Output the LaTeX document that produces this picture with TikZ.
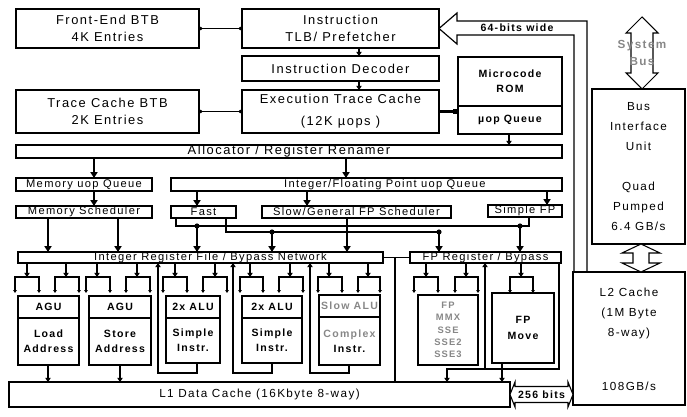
\documentclass[tikz,border=0pt]{standalone}
\usepackage{fontspec}
\setmainfont{Liberation Sans}[LetterSpace=12]
\usetikzlibrary{arrows.meta, positioning, calc}
\definecolor{cGray}{RGB}{135,135,135}
\tikzset{
	blk/.style ={rectangle, draw=black, line width=0.9pt, inner sep=0pt, outer sep=0pt, align=center, anchor=north west, font=\fontsize{11}{15}\selectfont},
	bar/.style ={blk, font=\fontsize{9.5}{10}\selectfont},
	unit/.style={blk, font=\fontsize{9}{13}\selectfont\bfseries},
	hvy/.style ={line width=2pt},
	sz/.style 2 args={minimum width=#1*0.3mm, minimum height=#2*0.3mm},
	wire/.style={line width=1pt},
	sig/.style ={-{Triangle[length=5pt,width=6pt]}, line width=1.8pt},
	tap/.style ={-{Triangle[length=3.5pt,width=4.5pt]}, line width=0.9pt},
	loopb/.style={-{Triangle[length=3.5pt,width=4.5pt]}, line width=1.6pt},
	port/.style={{Triangle[length=2.5pt,width=3pt]}-{Triangle[length=2.5pt,width=3pt]}, line width=0.9pt},
	dotc/.style={{Circle[length=3pt]}-{Circle[length=3pt]}, line width=0.9pt},
	hollow/.style={line width=0.9pt, fill=white, line join=miter},
}
\begin{document}
\begin{tikzpicture}[x=0.3mm, y=-0.3mm]
\useasboundingbox (0,0) rectangle (687,417);

% front end
\node[blk, sz={183}{39}] (febtb) at (16,9) {Front-End BTB\\4K Entries};
\node[blk, sz={197}{39}] (itlb) at (242,9) {Instruction\\TLB/ Prefetcher};
\node[blk, sz={197}{25}] (idec) at (242,56) {Instruction Decoder};
\node[blk, sz={197}{43}] (etc) at (242,90) {Execution Trace Cache\\[4pt](12K µops )};
\node[blk, sz={183}{43}] (tcbtb) at (16,90) {Trace Cache BTB\\2K Entries};
\node[unit, sz={104}{49}] (urom) at (458,57) {Microcode\\ROM};
\node[unit, sz={104}{28}] (uopq) at (458,106) {µop Queue};

% allocation and scheduling
\node[bar, sz={546}{13}, font=\fontsize{11}{11}\selectfont] (alloc) at (16,145) {Allocator / Register Renamer};
\node[bar, sz={136}{13}] (memq) at (16,178) {Memory uop Queue};
\node[bar, sz={391}{13}] (intq) at (171,178) {\hspace*{11mm}Integer/Floating Point uop Queue};
\node[bar, sz={136}{12}] (memsch) at (16,206) {Memory Scheduler};
\node[bar, sz={65}{12}] (fast) at (171,206) {Fast};
\node[bar, sz={189}{12}] (slowsch) at (262,206) {Slow/General FP Scheduler};
\node[bar, sz={74}{12}] (simfp) at (488,205) {Simple FP};
\node[bar, sz={365}{11}] (intrf) at (18,252) {\hspace*{6mm}Integer Register File / Bypass Network};
\node[bar, sz={151}{11}] (fprf) at (410,252) {FP Register / Bypass};

% execution units
\node[unit, sz={61}{22}] (agu1) at (18,296) {AGU};
\node[unit, sz={61}{47}] (ld) at (18,318) {Load\\Address};
\node[unit, sz={62}{22}] (agu2) at (89,296) {AGU};
\node[unit, sz={62}{47}] (st) at (89,318) {Store\\Address};
\node[unit, hvy, sz={54}{22}] (alu1) at (166,296) {2x ALU};
\node[unit, hvy, sz={54}{45}] (sim1) at (166,318) {Simple\\Instr.};
\node[unit, hvy, sz={60}{22}] (alu2) at (242,296) {2x ALU};
\node[unit, hvy, sz={60}{45}] (sim2) at (242,318) {Simple\\Instr.};
\node[unit, sz={61}{22}, text=cGray] (salu) at (319,295) {Slow ALU};
\node[unit, sz={61}{48}] (cpx) at (319,317) {\textcolor{cGray}{Complex}\\Instr.};
\node[unit, sz={60}{70}, text=cGray, font=\fontsize{8}{10.5}\selectfont\bfseries] (fpu) at (418,295) {FP\\MMX\\SSE\\SSE2\\SSE3};
\node[unit, sz={62}{70}] (fpmv) at (492,293) {FP\\Move};

% caches and bus unit
\node[blk, sz={501}{25}, font=\fontsize{10}{11}\selectfont] (l1) at (9,382) {L1 Data Cache (16Kbyte 8-way)};
\node[blk, hvy, sz={112}{133}] (l2) at (573,272) {};
\node[anchor=north, align=center, font=\fontsize{10}{17}\selectfont] (l2txt) at ($(l2.north)+(0,12)$) {L2 Cache\\(1M Byte\\8-way)};
\node[font=\fontsize{10}{12}\selectfont] (l2bw) at ($(l2.south)+(0,-19)$) {108GB/s};
\node[blk, hvy, sz={93}{155}, font=\fontsize{10}{17}\selectfont] (biu) at (592,89) {Bus\\Interface\\Unit\\[17pt]Quad\\Pumped\\6.4 GB/s};

% system bus
\coordinate (sbt) at (642,17);
\draw[hollow] (sbt) -- ++(16,16) -- ++(-5,0) -- ++(0,40) -- ++(5,0) -- (biu.north -| sbt) -- ++(-16,-16) -- ++(5,0) -- ++(0,-40) -- ++(-5,0) -- cycle;
\node[align=center, text=cGray, font=\fontsize{10}{15}\selectfont\bfseries] (systxt) at (642,53) {System\\Bus};
% bus unit to L2
\draw[hollow] (biu.south -| 641,0) -- ++(19,9) -- ++(-11,0) -- ++(0,10) -- ++(11,0) -- (l2.north -| 641,0) -- ++(-19,-9) -- ++(11,0) -- ++(0,-10) -- ++(-11,0) -- cycle;
% L1 to L2
\draw[hollow] (l1.east) -- ++(5,-12.5) -- ++(0,4.5) -- ++(53,0) -- ++(0,-4.5) -- (l1.east -| l2.west) -- ++(-5,12.5) -- ++(0,-4.5) -- ++(-53,0) -- ++(0,4.5) -- cycle;
\node[font=\fontsize{9}{10}\selectfont\bfseries, inner sep=0pt] (w256) at (541.5,394.5) {256 bits};

% 64-bit bus from L2 to prefetcher
\draw[wire] (l2.north -| 587,0) -- (587,21) -- (457,21) -- (457,13) -- (itlb.east) -- (457,44) -- (457,35) -- (574,35) -- (l2.north -| 574,0);
\node[font=\fontsize{9}{10}\selectfont\bfseries] (busw) at (517,28) {64-bits wide};

% front end links
\draw[dotc] (febtb.east) -- (itlb.west);
\draw[dotc] (tcbtb.east) -- (etc.west);
\draw[tap] (itlb.south -| 359,0) -- (idec.north -| 359,0);
\draw[tap] (idec.south -| 359,0) -- (etc.north -| 359,0);
\draw[line width=2pt, -{Square[length=4pt,width=4pt]}] (etc.east) -- (etc.east -| uopq.west);
\draw[tap] (uopq.south -| 509,0) -- (alloc.north -| 509,0);

% queues and schedulers
\draw[sig] (alloc.south -| 94,0) -- (memq.north -| 94,0);
\draw[sig] (alloc.south -| 346,0) -- (intq.north -| 346,0);
\draw[sig] (memq.south -| 94,0) -- (memsch.north -| 94,0);
\draw[sig] (intq.south -| 197,0) -- (fast.north -| 197,0);
\draw[sig] (intq.south -| 307,0) -- (slowsch.north -| 307,0);
\draw[sig] (intq.south -| 547,0) -- (simfp.north -| 547,0);
\foreach \x in {48,118}
	\draw[sig] (memsch.south -| \x,0) -- (intrf.north -| \x,0);
\draw[sig] (slowsch.south -| 347,0) -- (intrf.north -| 347,0);

% dispatch ports
\coordinate (fa) at (176,226);
\coordinate (fb) at (226,232);
\coordinate (sb) at (529,226);
\coordinate (j1) at (197,226);
\coordinate (j2) at (272,232);
\coordinate (j3) at (439,232);
\coordinate (j4) at (520,226);
\draw[wire] (fast.south -| fa) -- (fa) -- (sb) -- (simfp.south -| sb);
\draw[wire] (fast.south -| fb) -- (fb) -- (j3);
\foreach \j in {j1,j2,j3,j4}
	\fill (\j) circle (2.2pt);
\draw[sig] (j1) -- (j1 |- intrf.north);
\draw[sig] (j2) -- (j2 |- intrf.north);
\draw[sig] (j3) -- (j3 |- fprf.north);
\draw[sig] (j4) -- (j4 |- fprf.north);

% register file to unit inputs
\foreach \c/\l/\r in {27/15/39, 66/55/79, 97/86/110, 137/126/150, 175/163/187, 215/203/227, 250/240/263, 290/279/303, 329/318/342, 368/358/380} {
	\draw[tap] (intrf.south -| \c,0) -- (\c,277);
	\draw[port] (\l,293) -- (\l,277) -- (\r,277) -- (\r,293);
}
\foreach \c/\l/\r in {426/414/438, 466/455/478, 521/510/533} {
	\draw[tap] (fprf.south -| \c,0) -- (\c,277);
	\draw[port] (\l,293) -- (\l,277) -- (\r,277) -- (\r,293);
}

% write-back and loads
\draw[tap] (ld.south -| 48,0) -- (l1.north -| 48,0);
\draw[tap] (st.south -| 120,0) -- (l1.north -| 120,0);
\draw[loopb] (sim1.south -| 197,0) |- (158,373) -- (intrf.south -| 158,0);
\draw[loopb] (sim2.south -| 272,0) |- (233,373) -- (intrf.south -| 233,0);
\draw[tap] (cpx.south -| 349,0) |- (310,373) -- (intrf.south -| 310,0);
\coordinate (fpj) at (485,369);
\draw[tap] (fprf.south -| 559,0) |- (447,369) -- (l1.north -| 447,0);
\draw[tap] (fpj) -- (fprf.south -| fpj);
\draw[tap] (fpmv.south -| 502,0) -- (l1.north -| 502,0);
\draw[line width=1.6pt] (intrf.east) -- (fprf.west);
\draw[wire] (intrf.east -| 395,0) -- (l1.north -| 395,0);
\end{tikzpicture}
\end{document}
